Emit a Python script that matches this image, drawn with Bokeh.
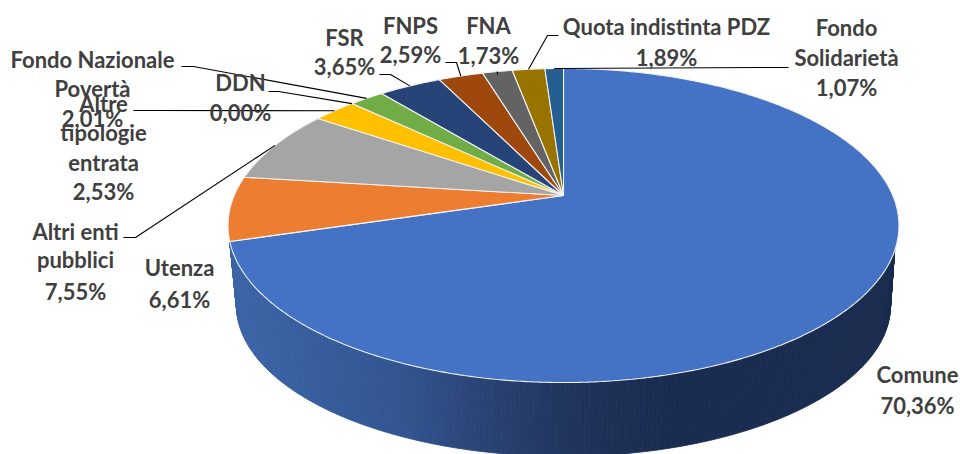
import numpy as np
from bokeh.plotting import figure
from bokeh.models import Range1d
from bokeh.core.properties import value
from bokeh.embed import file_html
from bokeh.resources import INLINE

categories = ["Comune", "Utenza", "Altri enti pubblici", "Altre tipologie entrata", "DDN",
              "Fondo Nazionale Povertà", "FSR", "FNPS", "FNA", "Quota indistinta PDZ", "Fondo Solidarietà"]
shares = [70.36, 6.61, 7.55, 2.53, 0.00, 2.01, 3.65, 2.59, 1.73, 1.89, 1.07]
colors = ["#4472C4", "#ED7D31", "#A5A5A5", "#FFC000", "#5B9BD5", "#70AD47",
          "#264478", "#9E480E", "#636363", "#997300", "#255E91"]

# label layout: (centre x, centre y of a line, text)
LABELS = [
    (917, 374, "Comune"), (917, 405, "70,36%"),
    (179, 267, "Utenza"), (179, 299, "6,61%"),
    (75, 231, "Altri enti"), (75, 259, "pubblici"), (75, 291, "7,55%"),
    (92, 59, "Fondo Nazionale"), (92, 88, "Povertà"), (92, 118, "2,01%"),
    (103, 103, "Altre"), (103, 132, "tipologie"), (103, 162, "entrata"), (103, 191, "2,53%"),
    (240, 82, "DDN"), (240, 112, "0,00%"),
    (344, 37, "FSR"), (344, 66, "3,65%"),
    (410, 25, "FNPS"), (410, 54, "2,59%"),
    (488, 25, "FNA"), (488, 55, "1,73%"),
    (666, 26, "Quota indistinta PDZ"), (666, 57, "1,89%"),
    (846, 27, "Fondo"), (846, 57, "Solidarietà"), (846, 87, "1,07%"),
]
# leader elbows per category (start, elbow), the end lies on the rim at the slice's middle
LEADERS = {
    2: [(123, 237), (135, 237)],
    3: [(133, 110), (150, 110)],
    4: [(268, 91), (278, 91)],
    5: [(181, 66), (193, 66)],
    6: [(379, 74), (390, 74)],
    7: [(445, 62), (456, 62)],
    8: [(497, 74)],
    9: [(558, 35), (547, 35)],
    10: [(788, 67), (770, 67)],
}

# projection of the tilted disc
CX, CY = 563.0, 195.0
K = 0.191
AX, BY = 329.3, 151.3
AX2, BY2, CY2 = 321.0, 145.5, 276.0


def top(theta):
    u, v = np.sin(theta), -np.cos(theta)
    d = 1 - K * v
    return CX + AX * u / d, CY + BY * v / d


def bottom(theta):
    u, v = np.sin(theta), -np.cos(theta)
    d = 1 - K * v
    return CX + AX2 * u / d, CY2 + BY2 * v / d


fractions = np.cumsum([0.0] + shares) / sum(shares)
angles = fractions * 2 * np.pi

p = figure(width=960, height=454, output_backend="svg", toolbar_location=None,
           x_range=Range1d(0, 960), y_range=Range1d(454, 0), min_border=0)
p.axis.visible = False
p.grid.visible = False
p.outline_line_color = None
p.background_fill_color = "white"
p.border_fill_color = "white"

# front wall of the first slice, as narrow shaded strips
stops_x = [230, 400, 490, 560, 660, 900]
stops_r = [60, 50, 42, 33, 26, 25]
stops_g = [101, 85, 66, 54, 44, 43]
stops_b = [168, 145, 115, 94, 80, 78]
t_start = angles[1]
t_right = np.radians(110)
thetas = np.linspace(np.radians(259), np.radians(101), 240)
xs, ys, cs = [], [], []
for a, b in zip(thetas[:-1], thetas[1:]):
    x1, y1 = top(min(max(a, t_right), t_start))
    x2, y2 = top(min(max(b, t_right), t_start))
    x3, y3 = bottom(b)
    x4, y4 = bottom(a)
    mx = (x1 + x2 + x3 + x4) / 4
    c = [int(np.interp(mx, stops_x, s)) for s in (stops_r, stops_g, stops_b)]
    col = "#%02x%02x%02x" % tuple(c)
    xs.append([x1, x2, x3, x4])
    ys.append([y1, y2, y3, y4])
    cs.append(col)
p.patches(xs, ys, fill_color=cs, line_color=cs, line_width=0.8)

# top face
for i, col in enumerate(colors):
    if shares[i] == 0:
        continue
    th = np.linspace(angles[i], angles[i + 1], max(3, int(shares[i] * 8)))
    x, y = top(th)
    p.patch(np.r_[CX, x], np.r_[CY, y], fill_color=col, line_color="#f2f2f2", line_width=1.1)

# leaders
for i, pts in LEADERS.items():
    mid = (angles[i] + angles[i + 1]) / 2
    ex, ey = top(mid)
    lx = [q[0] for q in pts] + [float(ex)]
    ly = [q[1] for q in pts] + [float(ey)]
    p.line(lx, ly, line_color="black", line_width=1.1)

p.text([q[0] for q in LABELS], [q[1] for q in LABELS], text=[q[2] for q in LABELS],
       text_font=value("Lato"), text_font_style="bold", text_font_size="22px",
       text_color="#404040", text_align="center", text_baseline="middle")

open("out.html", "w").write(file_html(p, INLINE))
